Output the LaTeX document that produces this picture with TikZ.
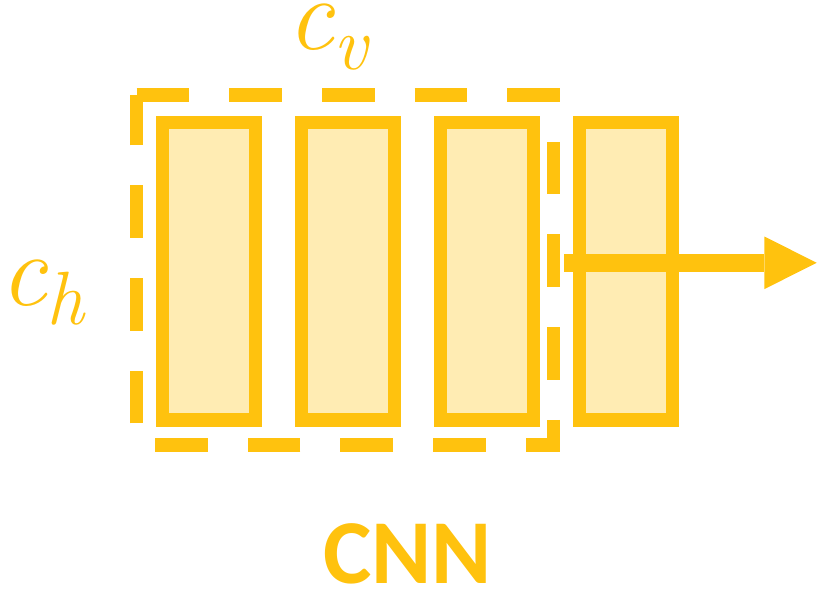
\documentclass[tikz,border=0pt]{standalone}
\usepackage{fontspec}
\usepackage{tikz}
\usetikzlibrary{arrows.meta}
\newfontfamily\cnnfont{Carlito}
\definecolor{cnngold}{HTML}{FFC20E}
\definecolor{cnnfill}{HTML}{FFECB3}
% italic symbol with a lowered index
\newcommand{\dimsym}[2]{%
	{\fontsize{59}{66}\selectfont\itshape #1}%
	\raisebox{-0.4cm}{\fontsize{43}{50}\selectfont\itshape #2}}
\tikzset{
	featbar/.style={draw=cnngold, fill=cnnfill, line width=0.266cm,
		minimum width=1.86cm, minimum height=5.95cm, inner sep=0pt},
	window/.style={draw=cnngold, line width=0.266cm, dash pattern=on 1.054cm off 0.8cm},
	flow/.style={draw=cnngold, line width=0.354cm,
		-{Triangle[length=1.046cm,width=1.052cm,line width=0pt]}},
	dimlabel/.style={text=cnngold, inner sep=0pt},
}

\begin{document}
\begin{tikzpicture}[x=0.02cm, y=-0.02cm]
	% canvas 826 x 612, 1 unit = 0.2mm
	\useasboundingbox (0,0) rectangle (826,612);
	
	% feature columns
	\node[featbar] (col1) at (209.2,271.25) {};
	\node[featbar] (col2) at (348,271.25) {};
	\node[featbar] (col3) at (487,271.25) {};
	\node[featbar] (col4) at (625.8,271.25) {};
	
	% sliding window over the first three columns
	\draw[window] (136.7,95) -- (553.3,95) -- (553.3,445) -- (136.7,445) -- cycle;
	
	% output arrow
	\coordinate (flowstart) at (564,262.8);
	\coordinate (flowtip) at (816.7,262.8);
	\draw[flow] (flowstart) -- (flowtip);
	
	% labels
	\node[dimlabel, anchor=base west] (cv) at (287,50) {\dimsym{c}{v}};
	\node[dimlabel, anchor=base west] (ch) at (0,305) {\dimsym{c}{h}};
	\node[text=cnngold, inner sep=0pt, anchor=base,
		font=\cnnfont\bfseries\fontsize{52}{62}\selectfont] (cnn) at (407.5,583.3) {CNN};
\end{tikzpicture}
\end{document}
